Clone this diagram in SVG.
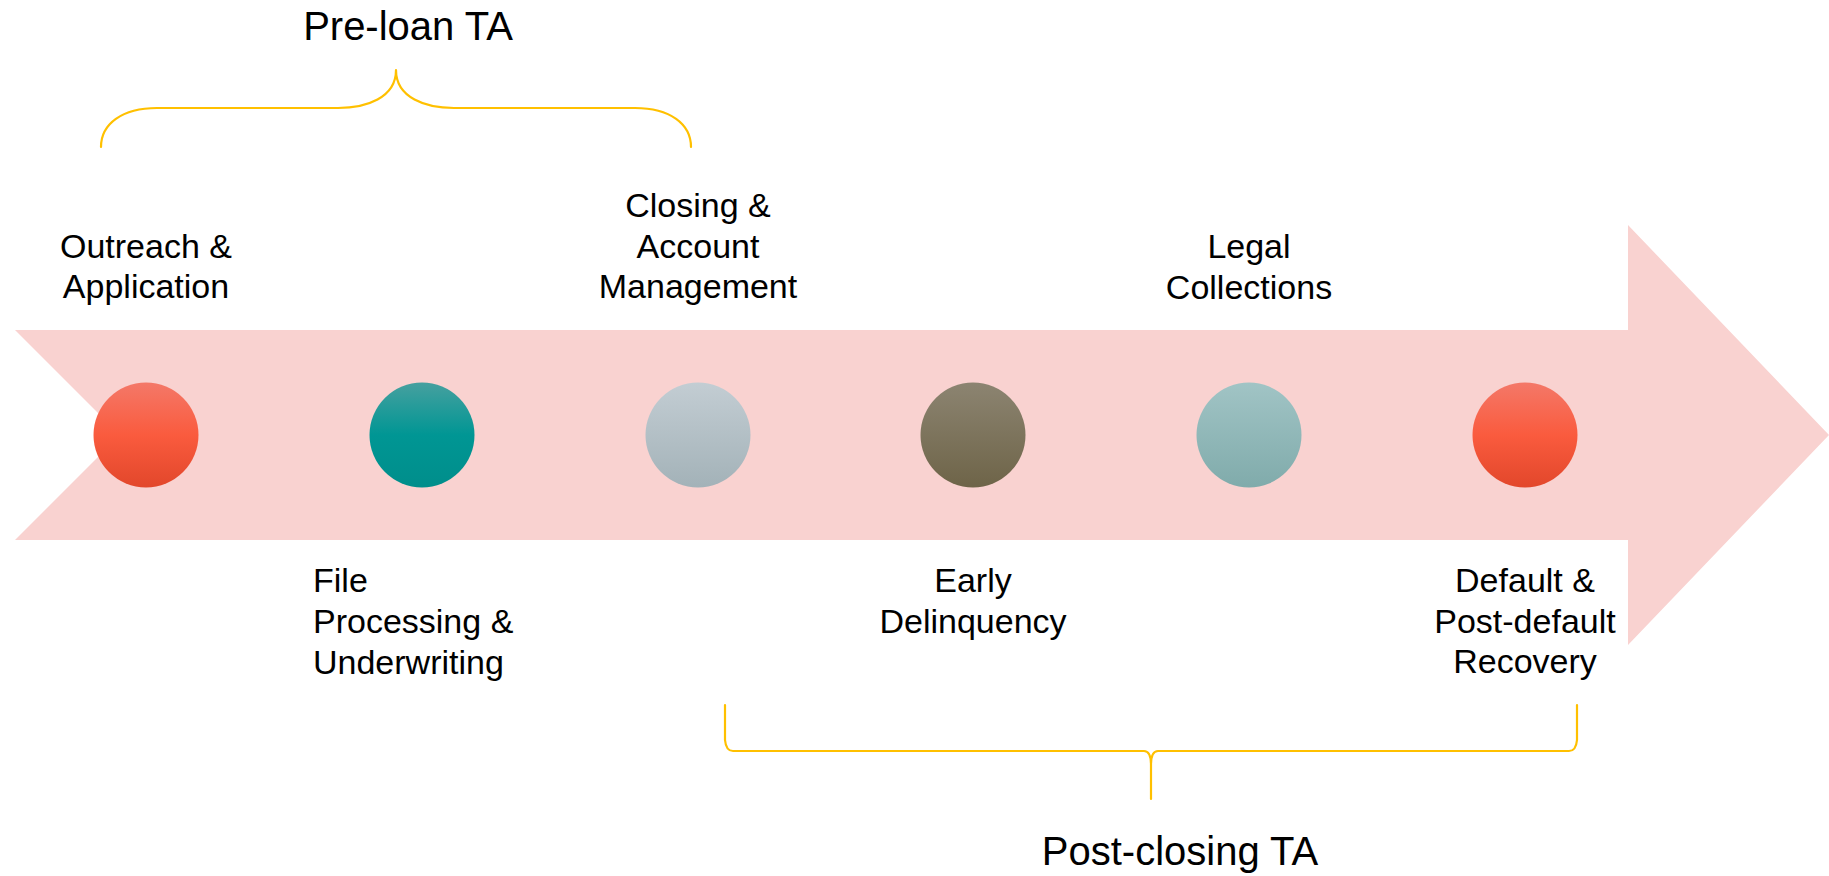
<svg xmlns="http://www.w3.org/2000/svg" width="1829" height="876" viewBox="0 0 1829 876">
<style>
.lbl{font-family:"Liberation Sans",Arial,sans-serif;font-size:34px;fill:#000}
.ttl{font-family:"Liberation Sans",Arial,sans-serif;font-size:40px;fill:#000}
.brace{fill:none;stroke:#FFC000;stroke-width:2.2;stroke-linecap:round;stroke-linejoin:round}
</style>
<defs>
<linearGradient id="gRed" x1="0" y1="0" x2="0" y2="1">
<stop offset="0" stop-color="#F47868"/><stop offset="0.5" stop-color="#FA5B3E"/><stop offset="1" stop-color="#E2472B"/>
</linearGradient>
<linearGradient id="gTeal" x1="0" y1="0" x2="0" y2="1">
<stop offset="0" stop-color="#46A09F"/><stop offset="0.5" stop-color="#009694"/><stop offset="1" stop-color="#008E8B"/>
</linearGradient>
<linearGradient id="gGray" x1="0" y1="0" x2="0" y2="1">
<stop offset="0" stop-color="#C3CDD3"/><stop offset="1" stop-color="#A3B2B8"/>
</linearGradient>
<linearGradient id="gOlive" x1="0" y1="0" x2="0" y2="1">
<stop offset="0" stop-color="#8C8471"/><stop offset="1" stop-color="#6E6448"/>
</linearGradient>
<linearGradient id="gAqua" x1="0" y1="0" x2="0" y2="1">
<stop offset="0" stop-color="#A1C4C5"/><stop offset="1" stop-color="#80ABAB"/>
</linearGradient>
</defs>
<rect width="1829" height="876" fill="#FFFFFF"/>
<g id="arrow">
<path d="M15,330 L1628,330 L1628,225 L1829,435 L1628,645 L1628,540 L15,540 L120,435 Z" fill="#F9D2D0"/>
</g>
<g id="connectors">
<path class="brace" d="M101,147 C101,124 122,108 157,108 L338,108 C366,108 396,98 396,70 C396,98 426,108 454,108 L635,108 C670,108 691,124 691,147"/>
<path class="brace" d="M725,705 L725,740 Q726,751 733,751 L1144,751 Q1151,751 1151,765 L1151,799 M1151,765 Q1151,751 1158,751 L1569,751 Q1576,751 1577,740 L1577,705"/>
</g>
<g id="title-pre">
<text class="ttl" x="408" y="40" text-anchor="middle">Pre-loan TA</text>
</g>
<g id="title-post">
<text class="ttl" x="1180" y="865" text-anchor="middle">Post-closing TA</text>
</g>
<g id="node1">
<circle cx="146" cy="435" r="52.5" fill="url(#gRed)"/>
<text class="lbl" text-anchor="middle" x="146"><tspan x="146" y="258">Outreach &amp;</tspan><tspan x="146" y="298">Application</tspan></text>
</g>
<g id="node2">
<circle cx="422" cy="435" r="52.5" fill="url(#gTeal)"/>
<text class="lbl" x="313"><tspan x="313" y="592">File</tspan><tspan x="313" y="633">Processing &amp;</tspan><tspan x="313" y="674">Underwriting</tspan></text>
</g>
<g id="node3">
<circle cx="698" cy="435" r="52.5" fill="url(#gGray)"/>
<text class="lbl" text-anchor="middle" x="698"><tspan x="698" y="217">Closing &amp;</tspan><tspan x="698" y="258">Account</tspan><tspan x="698" y="298">Management</tspan></text>
</g>
<g id="node4">
<circle cx="973" cy="435" r="52.5" fill="url(#gOlive)"/>
<text class="lbl" text-anchor="middle" x="973"><tspan x="973" y="592">Early</tspan><tspan x="973" y="633">Delinquency</tspan></text>
</g>
<g id="node5">
<circle cx="1249" cy="435" r="52.5" fill="url(#gAqua)"/>
<text class="lbl" text-anchor="middle" x="1249"><tspan x="1249" y="258">Legal</tspan><tspan x="1249" y="299">Collections</tspan></text>
</g>
<g id="node6">
<circle cx="1525" cy="435" r="52.5" fill="url(#gRed)"/>
<text class="lbl" text-anchor="middle" x="1525"><tspan x="1525" y="592">Default &amp;</tspan><tspan x="1525" y="633">Post-default</tspan><tspan x="1525" y="673">Recovery</tspan></text>
</g>
</svg>
